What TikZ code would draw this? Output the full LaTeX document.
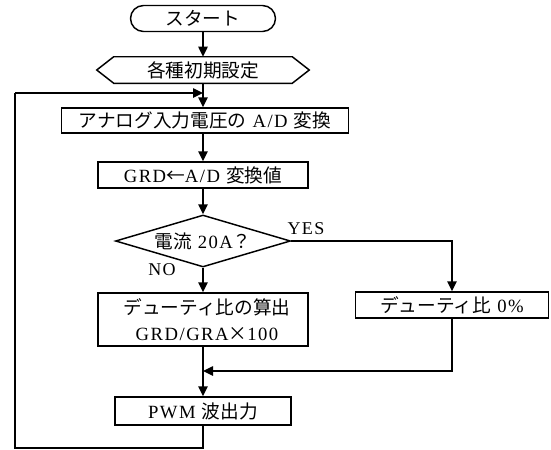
\documentclass[tikz,border=0pt]{standalone}
\usepackage{fontspec}
\setmainfont{Liberation Serif}[LetterSpace=8]
\newfontfamily\jp{Noto Sans CJK JP}
\usetikzlibrary{shapes.geometric,arrows.meta}
\begin{document}
\begin{tikzpicture}[x=0.75pt,y=-0.75pt,
  every node/.style={font=\fontsize{14}{19.5}\selectfont},
  box/.style={draw,line width=1.1pt,rectangle,inner sep=0pt,align=center},
  ln/.style={line width=1.1pt},
  arr/.style={line width=1.1pt,-{Triangle[length=7.5pt,width=7pt]}},
  lbl/.style={font=\fontsize{13.5}{15}\selectfont}]
\useasboundingbox (0,0) rectangle (551,450);
% nodes
\node[box,rounded corners=9.75pt,minimum width=108.75pt,minimum height=19.5pt] (start) at (203,18.5) {\jp スタート};
\node[inner sep=0pt,minimum width=159pt,minimum height=19.5pt] (init) at (203,70) {\jp 各種初期設定};
\draw[ln] (init.west) -- ([xshift=12.75pt]init.north west) -- ([xshift=-12.75pt]init.north east) -- (init.east) -- ([xshift=-12.75pt]init.south east) -- ([xshift=12.75pt]init.south west) -- cycle;
\node[box,minimum width=215.25pt,minimum height=18.75pt] (ad) at (205,120.5) {{\jp アナログ入力電圧の} A/D {\jp 変換}};
\node[box,minimum width=157.5pt,minimum height=19.5pt] (grd) at (203,175) {GRD{\jp ←}A/D {\jp 変換値}};
\node[diamond,draw,line width=1.1pt,inner sep=0pt,shape aspect=3.37,minimum width=131.25pt,minimum height=39pt] (dec) at (203,241) {{\jp 電流} 20A{\jp ？}};
\node[box,minimum width=157.5pt,minimum height=39.75pt] (calc) at (203,319.5) {\hspace*{6pt}{\jp デューティ比の算出}\\ \hspace*{6pt}GRD/GRA{\jp ×}100};
\node[box,minimum width=144.75pt,minimum height=19.5pt] (zero) at (452,305) {{\jp デューティ比} 0\%};
\node[box,minimum width=132pt,minimum height=21pt] (pwm) at (203,411) {PWM {\jp 波出力}};
\node[lbl] (yes) at (306,229) {YES};
\node[lbl] (no) at (162,270) {NO};
\coordinate (merge) at (203,371);
\coordinate (lb) at (15,448);
\coordinate (lt) at (15,93);
\coordinate (jn) at (203,93);
% connectors
\draw[arr] (start) -- (init);
\draw[arr] (init.south) -- (init.south |- ad.north);
\draw[arr] (ad.south -| grd.north) -- (grd.north);
\draw[arr] (grd) -- (dec);
\draw[arr] (dec) -- (calc);
\draw[arr] (dec.east) -| (zero.north);
\draw[ln] (calc) -- (merge);
\draw[arr] (merge) -- (pwm);
\draw[arr] (zero.south) |- (merge);
\draw[ln] (pwm.south) |- (lb) -- (lt);
\draw[arr] (lt) -- (jn);
\end{tikzpicture}
\end{document}
